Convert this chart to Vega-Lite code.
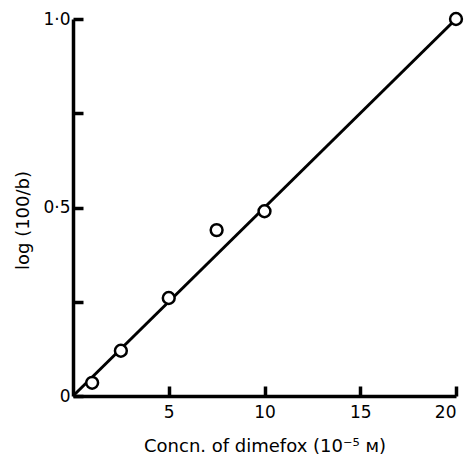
{
  "$schema": "https://vega.github.io/schema/vega-lite/v6.json",
  "autosize": {"type": "none"},
  "padding": {"left": 73, "top": 19, "right": 9, "bottom": 61},
  "width": 383,
  "height": 377,
  "background": "white",
  "config": {
    "view": {"stroke": null},
    "font": "DejaVu Sans"
  },
  "datasets": {
    "pts": [
      {"conc": 1, "logv": 0.035},
      {"conc": 2.5, "logv": 0.12},
      {"conc": 5, "logv": 0.26},
      {"conc": 7.5, "logv": 0.44},
      {"conc": 10, "logv": 0.49},
      {"conc": 20, "logv": 1.0}
    ],
    "fit": [
      {"conc": 0, "logv": 0},
      {"conc": 20, "logv": 1.0}
    ]
  },
  "encoding": {
    "x": {
      "field": "conc", "type": "quantitative",
      "scale": {"domain": [0, 20], "nice": false, "zero": false},
      "axis": {
        "title": "Concn. of dimefox (10⁻⁵ ᴍ)",
        "values": [5, 10, 15, 20],
        "grid": false,
        "domainWidth": 3.5, "domainColor": "black",
        "tickSize": -10, "tickWidth": 3.5, "tickColor": "black",
        "labelPadding": 18,
        "labelFontSize": 17, "labelColor": "black", "labelFontWeight": "normal",
        "titleFontSize": 18, "titleColor": "black", "titleFontWeight": "normal",
        "titlePadding": 17
      }
    },
    "y": {
      "field": "logv", "type": "quantitative",
      "scale": {"domain": [0, 1], "nice": false},
      "axis": {
        "title": "log (100/b)",
        "values": [0, 0.25, 0.5, 0.75, 1],
        "labelExpr": "datum.value == 1 ? '1·0' : datum.value == 0.5 ? '0·5' : datum.value == 0 ? '0' : ''",
        "grid": false,
        "domainWidth": 3.5, "domainColor": "black",
        "tickSize": -10, "tickWidth": 3.5, "tickColor": "black",
        "labelPadding": 13,
        "labelFontSize": 17, "labelColor": "black", "labelFontWeight": "normal",
        "titleFontSize": 18, "titleColor": "black", "titleFontWeight": "normal",
        "titlePadding": 10,
        "titleY": 201
      }
    }
  },
  "layer": [
    {
      "data": {"name": "fit"},
      "mark": {"type": "line", "color": "black", "strokeWidth": 3}
    },
    {
      "data": {"name": "pts"},
      "mark": {"type": "point", "shape": "circle", "filled": true, "fill": "white", "stroke": "black", "strokeWidth": 2.5, "size": 140, "opacity": 1}
    }
  ]
}
